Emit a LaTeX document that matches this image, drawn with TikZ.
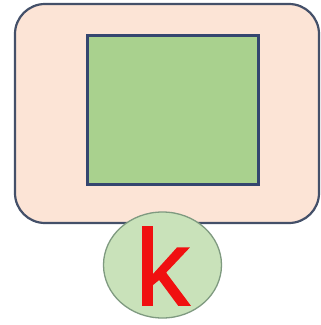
\documentclass[tikz,border=0pt]{standalone}
\usepackage{fontspec}
\setmainfont{Liberation Sans}
\newfontfamily\kfont[FakeBold=1.2]{Liberation Sans}
\usetikzlibrary{shapes.geometric}
\definecolor{peach}{HTML}{FCE4D6}
\definecolor{outerline}{HTML}{445069}
\definecolor{sqgreen}{HTML}{A9D18E}
\definecolor{sqline}{HTML}{34466F}
\definecolor{circfill}{HTML}{C9E2BA}
\definecolor{circline}{HTML}{7F9A80}
\definecolor{kred}{HTML}{F01010}
\tikzset{
  outerbox/.style={draw=outerline, line width=2.2pt, fill=peach, rounded corners=30pt,
    minimum width=304pt, minimum height=219pt, inner sep=0pt},
  innerbox/.style={draw=sqline, line width=3pt, fill=sqgreen,
    minimum width=171pt, minimum height=149pt, inner sep=0pt},
  circbox/.style={ellipse, draw=circline, line width=1.3pt, fill=circfill,
    minimum width=118pt, minimum height=106pt, inner sep=0pt},
  letter/.style={text=kred, inner sep=0pt, font=\kfont\fontsize{108}{108}\selectfont}
}
\begin{document}
\begin{tikzpicture}[x=1pt, y=-1pt]
\useasboundingbox (0,0) rectangle (321,325);
\fill[white] (0,0) rectangle (321,325);
\node[outerbox] (outer) at (167,113.5) {};
\node[innerbox] (inner) at (173.5,109.5) {};
\node[circbox] (circ) at (162.5,265) {};
\node[letter] (k) at (162.5,266) {k};
\end{tikzpicture}
\end{document}
